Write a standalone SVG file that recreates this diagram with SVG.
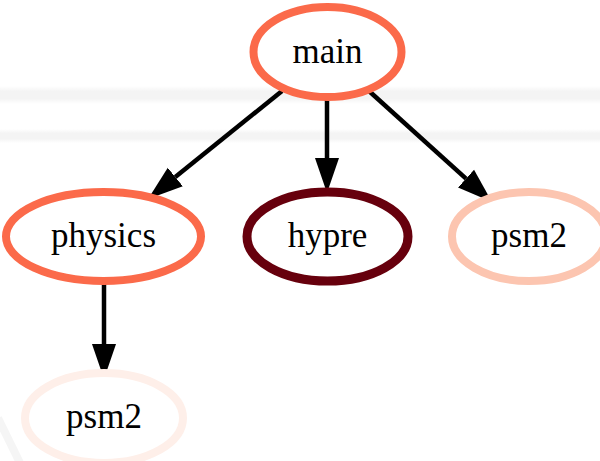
<svg xmlns="http://www.w3.org/2000/svg" width="600" height="461" viewBox="0 0 600 461">
<style>
.node ellipse{fill:#ffffff;stroke-width:8}
.node text{font-family:"Liberation Serif","Times New Roman",serif;font-size:35px;fill:#000;text-anchor:middle}
.edge line{stroke:#000;stroke-width:4.5;fill:none}
</style>
<defs>
<linearGradient id="band" x1="0" y1="0" x2="0" y2="1">
<stop offset="0" stop-color="#f4f4f4" stop-opacity="0"/>
<stop offset="0.3" stop-color="#f4f4f4"/>
<stop offset="0.7" stop-color="#f4f4f4"/>
<stop offset="1" stop-color="#f4f4f4" stop-opacity="0"/>
</linearGradient>
<marker id="arr" markerUnits="userSpaceOnUse" markerWidth="36" markerHeight="26" viewBox="0 -13 36 26" refX="0" refY="0" orient="auto">
<path d="M0,-12 L35,0 L0,12 z" fill="#000"/>
</marker>
</defs>
<rect width="600" height="461" fill="#ffffff"/>
<g id="background">
<rect x="0" y="86" width="600" height="18" fill="url(#band)"/>
<rect x="0" y="129" width="600" height="14" fill="url(#band)"/>
<line x1="-2" y1="418" x2="20" y2="463" stroke="#f5f5f5" stroke-width="8"/>
</g>
<g id="edges" class="edge">
<line x1="282" y1="91" x2="175.3" y2="177" marker-end="url(#arr)"/>
<line x1="327" y1="99" x2="327" y2="158" marker-end="url(#arr)"/>
<line x1="369" y1="91" x2="466" y2="178.6" marker-end="url(#arr)"/>
<line x1="104" y1="283" x2="104" y2="344" marker-end="url(#arr)"/>
</g>
<g id="node-main" class="node">
<ellipse cx="327.5" cy="52" rx="74" ry="45" stroke="#fb6a4a"/>
<text x="327.5" y="62.5">main</text>
</g>
<g id="node-physics" class="node">
<ellipse cx="103.5" cy="236.5" rx="97.5" ry="44.5" stroke="#fb6a4a"/>
<text x="103.5" y="247">physics</text>
</g>
<g id="node-hypre" class="node">
<ellipse cx="327.5" cy="236.5" rx="80.5" ry="44.5" stroke="#67000d" style="stroke-width:9"/>
<text x="327.5" y="247">hypre</text>
</g>
<g id="node-psm2-a" class="node">
<ellipse cx="529" cy="236.5" rx="77" ry="44.5" stroke="#fcc5b0"/>
<text x="529" y="247">psm2</text>
</g>
<g id="node-psm2-b" class="node">
<ellipse cx="104" cy="418" rx="79" ry="45" stroke="#feefe9"/>
<text x="104" y="428">psm2</text>
</g>
</svg>
